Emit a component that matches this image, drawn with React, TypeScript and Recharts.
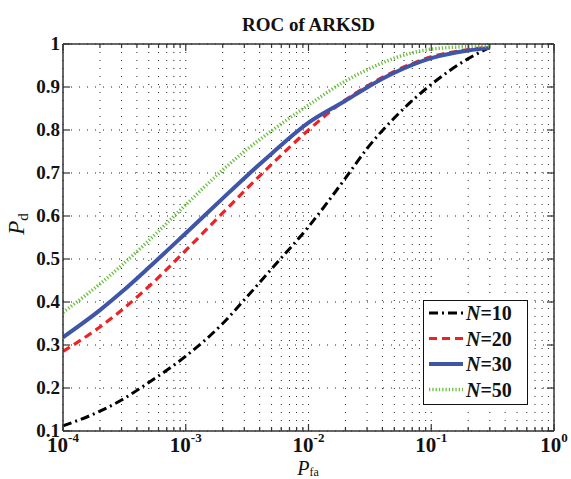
import React from "react";
import { LineChart, Line, XAxis, YAxis, CartesianGrid, Legend } from "recharts";

const FONT = '"Liberation Serif", "DejaVu Serif", serif';

// P_fa sample points
const PFA = [1e-4, 2e-4, 3e-4, 5e-4, 1e-3, 2e-3, 3e-3, 5e-3, 1e-2, 2e-2, 3e-2, 5e-2, 0.1, 0.2, 0.3];

// P_d per N
const PD_N10 = [0.112, 0.146, 0.172, 0.213, 0.274, 0.35, 0.405, 0.477, 0.575, 0.688, 0.757, 0.828, 0.906, 0.966, 0.992];
const PD_N20 = [0.285, 0.342, 0.381, 0.436, 0.52, 0.607, 0.658, 0.72, 0.8, 0.87, 0.902, 0.936, 0.97, 0.987, 0.993];
const PD_N30 = [0.318, 0.381, 0.423, 0.48, 0.56, 0.641, 0.688, 0.745, 0.817, 0.868, 0.899, 0.933, 0.967, 0.985, 0.991];
const PD_N50 = [0.376, 0.442, 0.485, 0.543, 0.626, 0.707, 0.75, 0.798, 0.858, 0.914, 0.94, 0.967, 0.988, 0.994, 0.996];

// axis ticks
const DECADES = [1e-4, 1e-3, 1e-2, 1e-1, 1];
const MINOR_STEPS = [2, 3, 4, 5, 6, 7, 8, 9];
const X_TICKS = DECADES.flatMap((d, i) =>
  i < DECADES.length - 1 ? [d, ...MINOR_STEPS.map((m) => m * d)] : [d]
);
const Y_TICKS = [0.1, 0.2, 0.3, 0.4, 0.5, 0.6, 0.7, 0.8, 0.9, 1];

const SERIES = [
  { key: "n10", name: "10", color: "#000000", width: 3, dash: "9 4 2 4" },
  { key: "n20", name: "20", color: "#ee2222", width: 3.2, dash: "8 5" },
  { key: "n30", name: "30", color: "#3f55a8", width: 4, dash: undefined },
  { key: "n50", name: "50", color: "#6cc040", width: 3.5, dash: "1.3 2" },
];

const data = PFA.map((p, i) => ({
  pfa: p,
  n10: PD_N10[i],
  n20: PD_N20[i],
  n30: PD_N30[i],
  n50: PD_N50[i],
}));

const AXIS = "#333";

function isDecade(v: number) {
  const l = Math.log10(v);
  return Math.abs(l - Math.round(l)) < 1e-6;
}

function BottomTick({ x, y, payload }: any) {
  const v = payload.value;
  const major = isDecade(v);
  return (
    <g>
      <line x1={x} x2={x} y1={y} y2={y - (major ? 7 : 4)} stroke={AXIS} strokeWidth={1.2} />
      {major && (
        <text x={x} y={y + 21} textAnchor="middle" fontFamily={FONT} fontWeight="bold" fontSize={21} fill="#111">
          10
          <tspan dy={-10} fontSize={13}>{Math.round(Math.log10(v))}</tspan>
        </text>
      )}
    </g>
  );
}

function TopTick({ x, y, payload }: any) {
  const major = isDecade(payload.value);
  return <line x1={x} x2={x} y1={y} y2={y + (major ? 7 : 4)} stroke={AXIS} strokeWidth={1.2} />;
}

function LeftTick({ x, y, payload }: any) {
  const v = payload.value;
  return (
    <g>
      <line x1={x} x2={x + 7} y1={y} y2={y} stroke={AXIS} strokeWidth={1.2} />
      <text x={x - 3} y={y} dy="0.3em" textAnchor="end" fontFamily={FONT} fontWeight="bold" fontSize={19} fill="#111">
        {v === 1 ? "1" : v.toFixed(1)}
      </text>
    </g>
  );
}

function RightTick({ x, y }: any) {
  return <line x1={x} x2={x - 7} y1={y} y2={y} stroke={AXIS} strokeWidth={1.2} />;
}

function LegendBox() {
  return (
    <div style={{ width: 105, height: 105, border: "1.5px solid #111", background: "#fff", boxSizing: "border-box" }}>
      <svg width={102} height={102}>
        {SERIES.map((s, i) => {
          const cy = 12 + i * 25.5;
          return (
            <g key={s.key}>
              <line x1={5} x2={39} y1={cy} y2={cy} stroke={s.color} strokeWidth={s.width} strokeDasharray={s.dash} />
              <text x={42} y={cy + 7} fontFamily={FONT} fontWeight="bold" fontSize={20} fill="#111">
                <tspan fontStyle="italic">N</tspan>={s.name}
              </text>
            </g>
          );
        })}
      </svg>
    </div>
  );
}

export default function App() {
  return (
    <div style={{ position: "absolute", left: 0, top: 0, width: 571, height: 479, background: "#fff" }}>
      <LineChart width={571} height={479} data={data} margin={{ top: 43, right: 16, bottom: 47, left: 62 }}>
        <CartesianGrid stroke="#222" strokeDasharray="1 7" strokeWidth={1} />
        <XAxis
          dataKey="pfa"
          type="number"
          scale="log"
          domain={[1e-4, 1]}
          ticks={X_TICKS}
          interval={0}
          height={1}
          tickSize={0}
          tickMargin={0}
          tickLine={false}
          tick={<BottomTick />}
          axisLine={{ stroke: AXIS, strokeWidth: 1.5 }}
          allowDataOverflow
        />
        <XAxis
          xAxisId="top"
          orientation="top"
          dataKey="pfa"
          type="number"
          scale="log"
          domain={[1e-4, 1]}
          ticks={X_TICKS}
          interval={0}
          height={1}
          tickSize={0}
          tickMargin={0}
          tickLine={false}
          tick={<TopTick />}
          axisLine={{ stroke: AXIS, strokeWidth: 1.5 }}
          allowDataOverflow
        />
        <YAxis
          type="number"
          domain={[0.1, 1]}
          ticks={Y_TICKS}
          interval={0}
          width={1}
          tickSize={0}
          tickMargin={0}
          tickLine={false}
          tick={<LeftTick />}
          axisLine={{ stroke: AXIS, strokeWidth: 1.5 }}
          allowDataOverflow
        />
        <YAxis
          yAxisId="right"
          orientation="right"
          type="number"
          domain={[0.1, 1]}
          ticks={Y_TICKS}
          interval={0}
          width={1}
          tickSize={0}
          tickMargin={0}
          tickLine={false}
          tick={<RightTick />}
          axisLine={{ stroke: AXIS, strokeWidth: 1.5 }}
          allowDataOverflow
        />
        {SERIES.map((s) => (
          <Line
            key={s.key}
            dataKey={s.key}
            name={s.name}
            type="monotone"
            stroke={s.color}
            strokeWidth={s.width}
            strokeDasharray={s.dash}
            dot={false}
            activeDot={false}
            isAnimationActive={false}
          />
        ))}
        <Legend
          layout="vertical"
          align="center"
          verticalAlign="middle"
          content={() => <LegendBox />}
          wrapperStyle={{ left: 423, top: 300, width: 105, height: 105 }}
        />
        <text x={308.5} y={31} textAnchor="middle" fontFamily={FONT} fontWeight="bold" fontSize={19} fill="#111">
          ROC of ARKSD
        </text>
        <text x={24} y={224} transform="rotate(-90, 24, 224)" textAnchor="middle" fontFamily={FONT} fontSize={23} fill="#111">
          <tspan fontStyle="italic">P</tspan>
          <tspan fontSize={15} dy={4}>d</tspan>
        </text>
        <text x={308} y={475} textAnchor="middle" fontFamily={FONT} fontSize={20} fill="#111">
          <tspan fontStyle="italic">P</tspan>
          <tspan fontSize={12} dy={1}>fa</tspan>
        </text>
      </LineChart>
    </div>
  );
}
